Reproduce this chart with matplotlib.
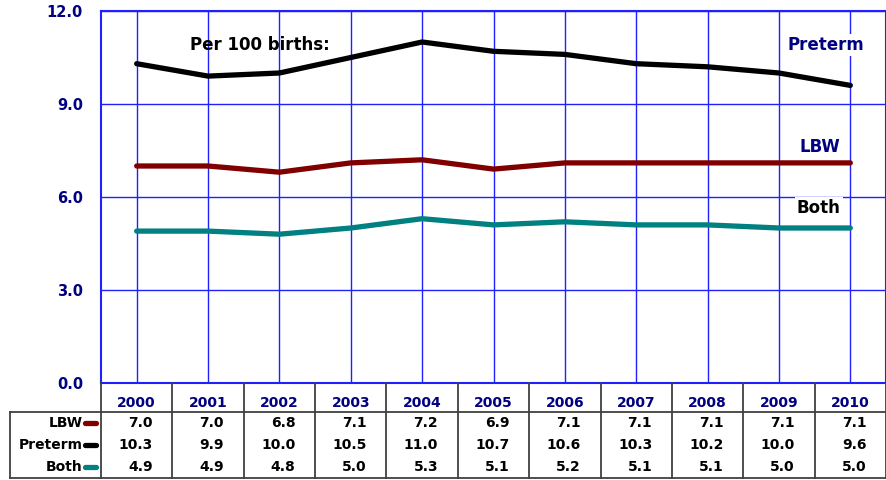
import matplotlib
matplotlib.use("Agg")
import matplotlib.pyplot as plt

years = ["2000", "2001", "2002", "2003", "2004", "2005", "2006", "2007", "2008", "2009", "2010"]
lbw = [7.0, 7.0, 6.8, 7.1, 7.2, 6.9, 7.1, 7.1, 7.1, 7.1, 7.1]
preterm = [10.3, 9.9, 10.0, 10.5, 11.0, 10.7, 10.6, 10.3, 10.2, 10.0, 9.6]
both = [4.9, 4.9, 4.8, 5.0, 5.3, 5.1, 5.2, 5.1, 5.1, 5.0, 5.0]
yticks = [0.0, 3.0, 6.0, 9.0, 12.0]

NAVY = "#000080"
GRID = "#2020ff"
TBL = "#404040"
series = [("LBW", lbw, "#800000"), ("Preterm", preterm, "#000000"), ("Both", both, "#008080")]

plt.rcParams['font.family'] = ['DejaVu Sans']
W, H = 887, 480
fig = plt.figure(figsize=(W / 100, H / 100), dpi=100)

x0, x1 = 101, 886
ax = fig.add_axes([x0 / W, 1 - 383 / H, (x1 - x0) / W, (383 - 11) / H])
xs = list(range(len(years)))
for name, vals, col in series:
    ax.plot(xs, vals, color=col, lw=3.8, solid_capstyle="round", solid_joinstyle="round", zorder=3)
ax.set_xlim(-0.5, len(years) - 0.5)
ax.set_ylim(0, 12)
ax.set_yticks(yticks)
ax.set_yticklabels(["%.1f" % v for v in yticks], color=NAVY, fontsize=10.5, fontweight="bold")
ax.tick_params(axis="y", length=0, pad=13)
ax.set_xticks(xs)
ax.tick_params(axis="x", length=0, labelbottom=False)
ax.grid(True, color=GRID, lw=1.0, zorder=1)
for s in ax.spines.values():
    s.set_color(GRID)
    s.set_linewidth(1.5)

bb = dict(facecolor="white", edgecolor="none", pad=1.5)
ax.text(1.72, 10.9, "Per 100 births:", ha="center", va="center", fontsize=12, fontweight="bold", color="black", zorder=4)
ax.text(9.66, 10.9, "Preterm", ha="center", va="center", fontsize=12, fontweight="bold", color=NAVY, bbox=bb, zorder=4)
ax.text(9.57, 7.61, "LBW", ha="center", va="center", fontsize=12, fontweight="bold", color=NAVY, bbox=bb, zorder=4)
ax.text(9.56, 5.65, "Both", ha="center", va="center", fontsize=12, fontweight="bold", color="black", bbox=bb, zorder=4)

# data table below the plot
tb = fig.add_axes([x0 / W, 1 - 478 / H, (x1 - x0) / W, (478 - 383) / H])
tb.set_xlim(-0.5, len(years) - 0.5)
tb.set_ylim(95, 0)
tb.axis("off")
cw = (x1 - x0) / len(years)
left = -0.5 - (x0 - 10) / cw
hdr = 29
rh = (95 - hdr) / 3
kw = dict(color=TBL, lw=1.3, clip_on=False)
tb.plot([left, 10.5], [hdr, hdr], **kw)
tb.plot([left, 10.5], [95, 95], **kw)
tb.plot([left, left], [hdr, 95], **kw)
for i in range(len(years) + 1):
    tb.plot([i - 0.5, i - 0.5], [0, 95], **kw)
for i, y in enumerate(years):
    tb.text(i, 20, y, ha="center", va="center", fontsize=10, fontweight="bold", color=NAVY)
for r, (name, vals, col) in enumerate(series):
    yc = hdr + rh * (r + 0.5)
    tb.text(-0.5 - 18 / cw, yc, name, ha="right", va="center", fontsize=10, fontweight="bold", color="black")
    tb.plot([-0.5 - 16 / cw, -0.5 - 5 / cw], [yc, yc], color=col, lw=3.8, solid_capstyle="round", clip_on=False)
    for i, v in enumerate(vals):
        tb.text(i + 16 / cw, yc, "%.1f" % v, ha="right", va="center", fontsize=10, fontweight="bold", color="black")

fig.savefig("out.png", dpi=100)
